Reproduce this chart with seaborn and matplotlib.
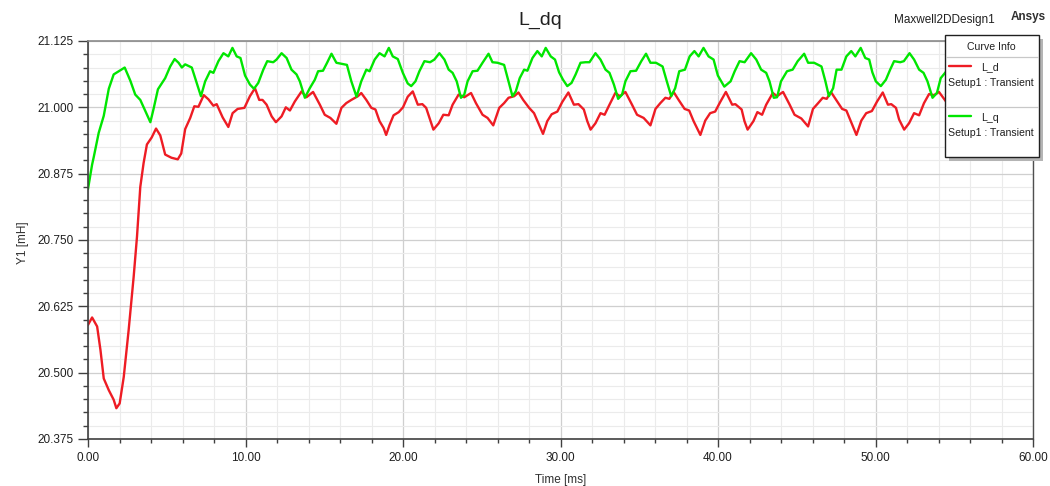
import numpy as np
import pandas as pd
import matplotlib
matplotlib.use("Agg")
import matplotlib.pyplot as plt
import seaborn as sns
from matplotlib.patches import Rectangle
from matplotlib.lines import Line2D
from matplotlib.ticker import MultipleLocator, FormatStrFormatter

# ---------------- data ----------------
ld_t = [0.0, 0.26, 0.58, 0.79, 1.0, 1.32, 1.63, 1.8, 2.01, 2.27, 2.58, 2.9, 3.11, 3.32, 3.53, 3.74,
        4.04, 4.32, 4.59, 4.9, 5.3, 5.7, 5.92, 6.17, 6.49, 6.75, 7.01, 7.35, 7.65, 7.96, 8.17, 8.55,
        8.91, 9.18, 9.5, 9.93, 10.28, 10.6, 10.87, 11.08, 11.34, 11.66, 11.93, 12.29, 12.56, 12.82,
        13.13, 13.56, 13.87, 14.29, 14.72, 15.03, 15.39, 15.77, 16.09, 16.4, 16.72, 17.14, 17.35,
        17.67, 17.99, 18.25, 18.51, 18.77, 18.93, 19.15, 19.4, 19.73, 20.0, 20.3, 20.62, 20.94,
        21.23, 21.47, 21.68, 21.93, 22.27, 22.56, 22.9, 23.15, 23.53, 23.89, 24.32, 24.63, 25.05,
        25.37, 25.73, 26.11, 26.42, 26.7, 27.06, 27.33, 27.63, 28.01, 28.32, 28.6, 28.89, 29.16,
        29.44, 29.8, 30.11, 30.5, 30.85, 31.14, 31.48, 31.7, 31.91, 32.22, 32.54, 32.8, 33.06,
        33.48, 33.77, 34.12, 34.54, 34.86, 35.28, 35.71, 36.03, 36.34, 36.66, 36.91, 37.18, 37.5,
        37.88, 38.17, 38.45, 38.88, 39.19, 39.5, 39.82, 40.14, 40.5, 40.9, 41.1, 41.5, 41.68,
        41.88, 42.25, 42.5, 42.8, 43.06, 43.48, 43.75, 44.13, 44.55, 44.86, 45.29, 45.72, 46.03,
        46.36, 46.65, 46.9, 47.17, 47.5, 47.88, 48.15, 48.43, 48.79, 49.1, 49.41, 49.77, 50.1,
        50.46, 50.79, 51.0, 51.3, 51.5, 51.82, 52.13, 52.45, 52.77, 53.08, 53.4, 53.72, 54.03, 54.5]
ld_v = [20.590, 20.604, 20.587, 20.543, 20.489, 20.467, 20.449, 20.433, 20.442, 20.492, 20.580,
        20.681, 20.756, 20.850, 20.895, 20.930, 20.943, 20.960, 20.947, 20.911, 20.905, 20.902,
        20.913, 20.959, 20.980, 21.002, 21.001, 21.023, 21.015, 21.003, 21.006, 20.981, 20.963,
        20.989, 20.997, 20.999, 21.021, 21.036, 21.014, 21.014, 21.005, 20.983, 20.972, 20.983,
        21.000, 20.994, 21.011, 21.030, 21.019, 21.029, 21.005, 20.986, 20.980, 20.969, 20.999,
        21.008, 21.014, 21.021, 21.027, 21.014, 20.999, 20.996, 20.974, 20.961, 20.948, 20.967,
        20.985, 20.991, 21.000, 21.020, 21.030, 21.005, 21.006, 20.999, 20.980, 20.958, 20.970,
        20.986, 20.985, 21.005, 21.024, 21.019, 21.027, 21.008, 20.986, 20.980, 20.966, 20.999,
        21.008, 21.018, 21.021, 21.028, 21.014, 20.999, 20.989, 20.970, 20.950, 20.974, 20.987,
        20.992, 21.010, 21.028, 21.005, 21.006, 20.996, 20.974, 20.958, 20.970, 20.989, 20.986,
        21.002, 21.027, 21.021, 21.029, 21.005, 20.986, 20.980, 20.966, 20.997, 21.008, 21.018,
        21.016, 21.029, 21.014, 20.997, 20.994, 20.974, 20.948, 20.975, 20.989, 20.992, 21.010,
        21.029, 21.005, 21.006, 20.996, 20.974, 20.958, 20.974, 20.991, 20.986, 21.005, 21.027,
        21.021, 21.029, 21.005, 20.986, 20.979, 20.964, 20.997, 21.008, 21.018, 21.016, 21.029,
        21.014, 20.997, 20.994, 20.974, 20.948, 20.975, 20.989, 20.993, 21.011, 21.028, 21.005,
        21.006, 20.999, 20.977, 20.958, 20.970, 20.989, 20.985, 21.008, 21.025, 21.023, 21.029,
        21.010]

lq_t = [0.0, 0.26, 0.37, 0.68, 1.0, 1.32, 1.63, 1.95, 2.33, 2.69, 3.0, 3.32, 3.64, 3.96, 4.17,
        4.44, 4.9, 5.22, 5.5, 5.75, 5.96, 6.17, 6.59, 6.91, 7.17, 7.44, 7.75, 7.96, 8.28, 8.6,
        8.91, 9.17, 9.44, 9.68, 9.97, 10.28, 10.54, 10.81, 11.13, 11.38, 11.76, 11.97, 12.29,
        12.61, 12.92, 13.24, 13.45, 13.77, 14.08, 14.4, 14.61, 14.92, 15.18, 15.46, 15.77, 16.09,
        16.44, 16.72, 17.05, 17.35, 17.67, 17.88, 18.2, 18.51, 18.83, 19.1, 19.35, 19.67, 19.99,
        20.3, 20.52, 20.79, 21.04, 21.36, 21.72, 21.99, 22.31, 22.63, 22.9, 23.15, 23.41, 23.68,
        23.89, 24.1, 24.42, 24.73, 25.05, 25.43, 25.68, 26.0, 26.42, 26.7, 26.95, 27.16, 27.41,
        27.69, 27.9, 28.22, 28.53, 28.81, 29.06, 29.38, 29.65, 29.91, 30.16, 30.43, 30.7, 30.96,
        31.27, 31.59, 31.84, 32.22, 32.54, 32.86, 33.11, 33.39, 33.66, 33.91, 34.12, 34.44, 34.8,
        35.13, 35.43, 35.71, 36.06, 36.48, 36.75, 37.03, 37.28, 37.54, 37.9, 38.2, 38.5, 38.77,
        39.08, 39.4, 39.72, 39.99, 40.4, 40.8, 41.06, 41.37, 41.69, 42.1, 42.43, 42.74, 43.06,
        43.27, 43.54, 43.75, 44.0, 44.38, 44.74, 45.06, 45.47, 45.72, 46.1, 46.57, 46.82, 47.04,
        47.31, 47.53, 47.84, 48.15, 48.46, 48.72, 49.06, 49.35, 49.6, 49.8, 50.02, 50.34, 50.66,
        50.93, 51.18, 51.57, 51.8, 52.16, 52.45, 52.77, 53.05, 53.3, 53.62, 53.9, 54.14, 54.5]
lq_v = [20.846, 20.892, 20.907, 20.952, 20.984, 21.035, 21.062, 21.068, 21.075, 21.050, 21.024,
        21.014, 20.993, 20.972, 20.998, 21.034, 21.055, 21.077, 21.091, 21.084, 21.075, 21.081,
        21.075, 21.045, 21.021, 21.049, 21.068, 21.065, 21.087, 21.102, 21.096, 21.112, 21.096,
        21.093, 21.060, 21.043, 21.035, 21.046, 21.071, 21.087, 21.085, 21.090, 21.102, 21.093,
        21.071, 21.062, 21.049, 21.018, 21.036, 21.052, 21.068, 21.069, 21.084, 21.101, 21.084,
        21.082, 21.080, 21.049, 21.020, 21.049, 21.071, 21.068, 21.090, 21.102, 21.096, 21.112,
        21.096, 21.091, 21.065, 21.045, 21.040, 21.049, 21.068, 21.087, 21.085, 21.090, 21.102,
        21.090, 21.071, 21.065, 21.049, 21.018, 21.024, 21.049, 21.068, 21.069, 21.084, 21.101,
        21.085, 21.084, 21.080, 21.049, 21.021, 21.030, 21.055, 21.071, 21.069, 21.093, 21.106,
        21.096, 21.112, 21.096, 21.090, 21.066, 21.052, 21.040, 21.046, 21.062, 21.084, 21.085,
        21.085, 21.102, 21.090, 21.071, 21.065, 21.043, 21.016, 21.024, 21.049, 21.068, 21.069,
        21.087, 21.101, 21.084, 21.084, 21.077, 21.049, 21.021, 21.036, 21.068, 21.071, 21.096,
        21.106, 21.096, 21.112, 21.096, 21.090, 21.060, 21.039, 21.049, 21.068, 21.087, 21.085,
        21.102, 21.090, 21.071, 21.065, 21.049, 21.018, 21.019, 21.049, 21.068, 21.071, 21.087,
        21.101, 21.084, 21.084, 21.077, 21.049, 21.021, 21.036, 21.071, 21.071, 21.096, 21.106,
        21.096, 21.112, 21.093, 21.090, 21.066, 21.049, 21.040, 21.052, 21.071, 21.087, 21.085,
        21.087, 21.102, 21.090, 21.071, 21.065, 21.049, 21.018, 21.027, 21.055, 21.068]

series_names = ["L_d", "L_q"]
series_colors = ["#ee1c24", "#00e600"]
x_ticks = [0, 10, 20, 30, 40, 50, 60]
y_ticks = [20.375, 20.500, 20.625, 20.750, 20.875, 21.000, 21.125]
title = "L_dq"
x_label = "Time [ms]"
y_label = "Y1 [mH]"
design_name = "Maxwell2DDesign1"
brand = "Ansys"
legend_header = "Curve Info"
legend_sub = "Setup1 : Transient"

df = pd.concat([
    pd.DataFrame({"t": ld_t, "v": ld_v, "curve": series_names[0]}),
    pd.DataFrame({"t": lq_t, "v": lq_v, "curve": series_names[1]}),
], ignore_index=True)

# ---------------- figure ----------------
sns.set_style("white")
plt.rcParams["font.family"] = ["Liberation Sans", "DejaVu Sans"]

W, H = 1050, 486
fig = plt.figure(figsize=(W / 100, H / 100), dpi=100)
ax = fig.add_axes([88 / W, 1 - 439 / H, 945 / W, 398 / H])

sns.lineplot(data=df, x="t", y="v", hue="curve", palette=dict(zip(series_names, series_colors)),
             linewidth=1.7, ax=ax, legend=False, sort=False, estimator=None)

ax.set_xlim(x_ticks[0], x_ticks[-1])
ax.set_ylim(y_ticks[0], y_ticks[-1])
ax.set_xticks(x_ticks)
ax.set_yticks(y_ticks)
ax.xaxis.set_minor_locator(MultipleLocator(2))
ax.yaxis.set_minor_locator(MultipleLocator(0.025))
ax.xaxis.set_major_formatter(FormatStrFormatter("%.2f"))
ax.yaxis.set_major_formatter(FormatStrFormatter("%.3f"))

ax.grid(which="major", color="#cfcfcf", linewidth=0.9)
ax.grid(which="minor", color="#ebebeb", linewidth=0.8)
ax.set_axisbelow(True)

ax.tick_params(which="both", direction="out", width=1, color="#404040",
               labelsize=8.5, labelcolor="#1e1e1e")
ax.tick_params(axis="y", which="major", length=7.2, pad=3.3)
ax.tick_params(axis="y", which="minor", length=3.6)
ax.tick_params(axis="x", which="major", length=5.6, pad=4)
ax.tick_params(axis="x", which="minor", length=2.8)
ax.tick_params(axis="x", which="both", bottom=True)
ax.tick_params(axis="y", which="both", left=True)

for side in ["left", "bottom"]:
    ax.spines[side].set_color("#404040")
    ax.spines[side].set_linewidth(1.2)
ax.spines["top"].set_color("#8a8a8a")
ax.spines["top"].set_linewidth(1.2)
ax.spines["right"].set_color("#505050")
ax.spines["right"].set_linewidth(1.0)

ax.set_xlabel(x_label, fontsize=8.5, color="#303030", labelpad=7)
ax.set_ylabel(y_label, fontsize=8.5, color="#303030")
ax.yaxis.set_label_coords((28.5 - 88) / 945, (439 - 242.5) / 398)

# titles
fig.text(540 / W, 1 - 20 / H, title, ha="center", va="center", fontsize=14, color="#202020")
fig.text(944 / W, 1 - 20 / H, design_name, ha="center", va="center", fontsize=8.5, color="#202020")
fig.text(1028 / W, 1 - 17 / H, brand, ha="center", va="center", fontsize=8.5,
         fontweight="bold", color="#303030")


# legend box (figure pixel coords)
def fx(x):
    return x / W


def fy(y):
    return 1 - y / H


bx0, bx1, by0, by1 = 945, 1039, 35, 157
fig.add_artist(Rectangle((fx(bx0 + 4), fy(by1 + 4)), (bx1 - bx0) / W, (by1 - by0) / H,
                         transform=fig.transFigure, facecolor="#b4b4b4", edgecolor="none", zorder=5))
fig.add_artist(Rectangle((fx(bx0), fy(by1)), (bx1 - bx0) / W, (by1 - by0) / H,
                         transform=fig.transFigure, facecolor="white", edgecolor="#202020",
                         linewidth=1.0, zorder=6))
for ys in [56.7, 106.7]:
    fig.add_artist(Line2D([fx(bx0 + 1), fx(bx1 - 1)], [fy(ys), fy(ys)], transform=fig.transFigure,
                          color="#c8c8c8", linewidth=0.9, zorder=7))
fig.text(fx(991), fy(46.5), legend_header, ha="center", va="center", fontsize=7.6, color="#202020", zorder=8)
for i, (name, col) in enumerate(zip(series_names, series_colors)):
    yl = 66 + i * 50.5
    fig.add_artist(Line2D([fx(949), fx(971)], [fy(yl), fy(yl)], transform=fig.transFigure,
                          color=col, linewidth=1.7, zorder=8))
    fig.text(fx(981), fy(yl + 1), name, ha="left", va="center", fontsize=7.6, color="#202020", zorder=8)
    fig.text(fx(948), fy(yl + 16.5), legend_sub, ha="left", va="center", fontsize=7.6,
             color="#202020", zorder=8)

fig.savefig("out.png", dpi=100)
